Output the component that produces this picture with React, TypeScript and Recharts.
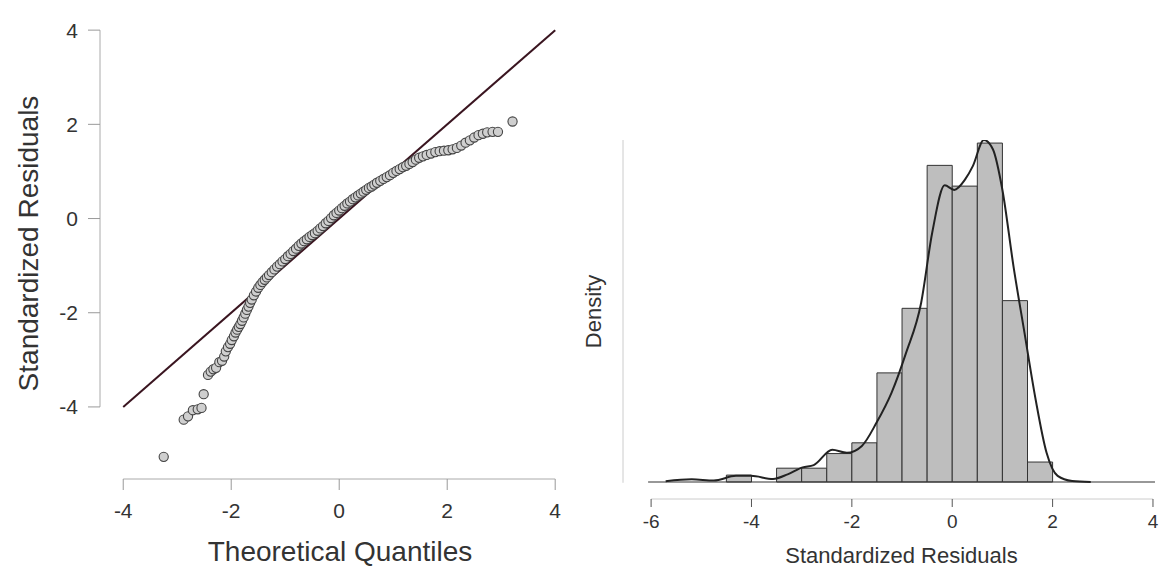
import {
  ComposedChart,
  Label,
  Line,
  ReferenceArea,
  ReferenceLine,
  Scatter,
  ScatterChart,
  XAxis,
  YAxis,
} from 'recharts';

// Q-Q plot: theoretical quantiles vs standardized residuals
const qqTheoretical = [
  -3.25, -2.88, -2.8, -2.71, -2.62, -2.55, -2.51, -2.43, -2.38, -2.33, -2.28, -2.22, -2.17,
  -2.13, -2.1, -2.06, -2.02, -1.99, -1.95, -1.92, -1.89, -1.86, -1.83, -1.8, -1.77, -1.74,
  -1.71, -1.68, -1.65, -1.62, -1.58, -1.54, -1.5, -1.46, -1.42, -1.38, -1.34, -1.3, -1.25,
  -1.2, -1.15, -1.1, -1.05, -1.0, -0.95, -0.9, -0.85, -0.8, -0.75, -0.7, -0.65, -0.6, -0.55,
  -0.5, -0.45, -0.4, -0.35, -0.3, -0.25, -0.2, -0.15, -0.1, -0.05, 0.0, 0.05, 0.1, 0.15, 0.2,
  0.25, 0.3, 0.35, 0.4, 0.45, 0.5, 0.55, 0.6, 0.65, 0.7, 0.76, 0.82, 0.88, 0.94, 1.0, 1.06,
  1.12, 1.18, 1.24, 1.3, 1.36, 1.42, 1.48, 1.55, 1.62, 1.7, 1.78, 1.86, 1.94, 2.02, 2.1, 2.18,
  2.26, 2.34, 2.42, 2.5, 2.58, 2.66, 2.74, 2.84, 2.94, 3.21,
];
const qqResidual = [
  -5.06, -4.27, -4.2, -4.07, -4.05, -4.02, -3.73, -3.32, -3.25, -3.2, -3.17, -3.05, -3.02,
  -2.93, -2.82, -2.73, -2.66, -2.58, -2.5, -2.42, -2.36, -2.3, -2.24, -2.17, -2.1, -2.02,
  -1.94, -1.87, -1.79, -1.72, -1.63, -1.55, -1.47, -1.41, -1.35, -1.3, -1.25, -1.2, -1.14,
  -1.08, -1.02, -0.97, -0.91, -0.86, -0.8, -0.75, -0.69, -0.64, -0.58, -0.53, -0.48, -0.44,
  -0.39, -0.35, -0.31, -0.26, -0.21, -0.16, -0.1, -0.05, 0.01, 0.07, 0.12, 0.17, 0.22, 0.27,
  0.32, 0.36, 0.41, 0.45, 0.49, 0.53, 0.57, 0.61, 0.65, 0.68, 0.72, 0.76, 0.8, 0.84, 0.88,
  0.92, 0.97, 1.01, 1.05, 1.09, 1.12, 1.16, 1.2, 1.25, 1.29, 1.32, 1.35, 1.38, 1.41, 1.43,
  1.44, 1.45, 1.47, 1.5, 1.55, 1.61, 1.66, 1.72, 1.77, 1.8, 1.83, 1.84, 1.84, 2.06,
];
const qqTicks = [-4, -2, 0, 2, 4];

// histogram of standardized residuals (bin width 0.5)
const binStarts = [-4.5, -4, -3.5, -3, -2.5, -2, -1.5, -1, -0.5, 0, 0.5, 1, 1.5];
const binDensity = [
  0.009, 0, 0.018, 0.018, 0.037, 0.051, 0.142, 0.226, 0.412, 0.385, 0.441, 0.236, 0.026,
];
const BIN_WIDTH = 0.5;

// kernel density curve
const curveX = [
  -5.71, -5.19, -4.75, -4.31, -4.01, -3.57, -3.28, -2.98, -2.76, -2.39, -2.1, -1.8, -1.51,
  -1.21, -0.92, -0.62, -0.4, -0.15, 0.04, 0.26, 0.41, 0.63, 0.81, 1.0, 1.22, 1.44, 1.66, 1.88,
  2.1, 2.39, 2.76,
];
const curveDensity = [
  0.001, 0.0035, 0.002, 0.008, 0.008, 0.004, 0.01, 0.019, 0.022, 0.042, 0.038, 0.047, 0.077,
  0.116, 0.168, 0.233, 0.324, 0.386, 0.38, 0.394, 0.411, 0.445, 0.433, 0.38, 0.281, 0.194,
  0.108, 0.038, 0.008, 0.0013, 0,
];
const histTicks = [-6, -4, -2, 0, 2, 4];

const FONT = '"Liberation Sans", Arial, sans-serif';

const qqData = qqTheoretical.map((x, i) => ({ x, y: qqResidual[i] }));
const curveData = curveX.map((x, i) => ({ x, d: curveDensity[i] }));

const QQ_X: [number, number] = [-4.43, 4.2];
const QQ_Y: [number, number] = [-5.53, 4.3];
const H_X: [number, number] = [-6.56, 4.1];
const H_Y: [number, number] = [-0.0221, 0.445];

function QQPlot() {
  return (
    <ScatterChart width={580} height={572} margin={{ top: 16, right: 14, bottom: 0, left: 0 }}>
      <XAxis
        type="number"
        dataKey="x"
        domain={QQ_X}
        ticks={qqTicks}
        allowDataOverflow
        axisLine={false}
        tickSize={11}
        tickMargin={13}
        height={93}
        tickLine={{ stroke: '#999' }}
        tick={{ fill: '#333', fontSize: 21, fontFamily: FONT }}
      >
        <Label
          value="Theoretical Quantiles"
          position="insideBottom"
          offset={11}
          dx={7}
          style={{ fill: '#333', fontSize: 28, fontFamily: FONT }}
        />
      </XAxis>
      <YAxis
        type="number"
        dataKey="y"
        domain={QQ_Y}
        ticks={qqTicks}
        allowDataOverflow
        axisLine={false}
        tickSize={12}
        tickMargin={10}
        width={100}
        tickLine={{ stroke: '#999' }}
        tick={{ fill: '#333', fontSize: 21, fontFamily: FONT }}
      >
        <Label
          value="Standardized Residuals"
          angle={-90}
          position="insideLeft"
          offset={28}
          dy={-4}
          style={{ fill: '#333', fontSize: 28, fontFamily: FONT, textAnchor: 'middle' }}
        />
      </YAxis>
      <ReferenceLine
        segment={[{ x: -4, y: QQ_Y[0] }, { x: 4, y: QQ_Y[0] }]}
        stroke="#aaa"
        ifOverflow="visible"
      />
      <ReferenceLine
        segment={[{ x: QQ_X[0], y: -4 }, { x: QQ_X[0], y: 4 }]}
        stroke="#aaa"
        ifOverflow="visible"
      />
      <ReferenceLine
        segment={[{ x: -4, y: -4 }, { x: 4, y: 4 }]}
        stroke="#3a1520"
        strokeWidth={2}
        ifOverflow="visible"
      />
      <Scatter
        data={qqData}
        isAnimationActive={false}
        shape={(p: any) => (
          <circle cx={p.cx} cy={p.cy} r={4.6} fill="#cfcfcf" stroke="#444" strokeWidth={1.1} />
        )}
      />
    </ScatterChart>
  );
}

function DensityPlot() {
  return (
    <ComposedChart
      width={580}
      height={572}
      data={curveData}
      margin={{ top: 140, right: 2, bottom: 0, left: 0 }}
    >
      <XAxis
        type="number"
        dataKey="x"
        domain={H_X}
        ticks={histTicks}
        allowDataOverflow
        axisLine={false}
        tickSize={8}
        tickMargin={8}
        height={73}
        tickLine={{ stroke: '#555' }}
        tick={{ fill: '#333', fontSize: 19, fontFamily: FONT }}
      >
        <Label
          value="Standardized Residuals"
          position="insideBottom"
          offset={9}
          dx={11}
          style={{ fill: '#333', fontSize: 22, fontFamily: FONT }}
        />
      </XAxis>
      <YAxis
        type="number"
        domain={H_Y}
        allowDataOverflow
        axisLine={false}
        tick={false}
        tickLine={false}
        width={43}
      >
        <Label
          value="Density"
          angle={-90}
          position="insideLeft"
          offset={13}
          dy={-8}
          style={{ fill: '#333', fontSize: 22, fontFamily: FONT, textAnchor: 'middle' }}
        />
      </YAxis>
      <ReferenceLine
        segment={[{ x: -6, y: H_Y[0] }, { x: 4, y: H_Y[0] }]}
        stroke="#ccc"
        ifOverflow="visible"
      />
      <ReferenceLine
        segment={[{ x: H_X[0], y: -0.001 }, { x: H_X[0], y: H_Y[1] }]}
        stroke="#ccc"
        ifOverflow="visible"
      />
      {binStarts.map((b, i) =>
        binDensity[i] > 0 ? (
          <ReferenceArea
            key={b}
            x1={b}
            x2={b + BIN_WIDTH}
            y1={0}
            y2={binDensity[i]}
            fill="#bebebe"
            fillOpacity={1}
            stroke="#333"
            strokeWidth={1}
            ifOverflow="visible"
          />
        ) : null,
      )}
      <ReferenceLine
        segment={[{ x: -6.06, y: 0 }, { x: 4.04, y: 0 }]}
        stroke="#333"
        strokeWidth={1.2}
        ifOverflow="visible"
      />
      <Line
        dataKey="d"
        type="monotone"
        stroke="#222"
        strokeWidth={2}
        dot={false}
        isAnimationActive={false}
      />
    </ComposedChart>
  );
}

export default function App() {
  return (
    <div
      style={{
        position: 'absolute',
        left: 0,
        top: 0,
        width: 1160,
        height: 572,
        background: '#fff',
        display: 'flex',
      }}
    >
      <QQPlot />
      <DensityPlot />
    </div>
  );
}
